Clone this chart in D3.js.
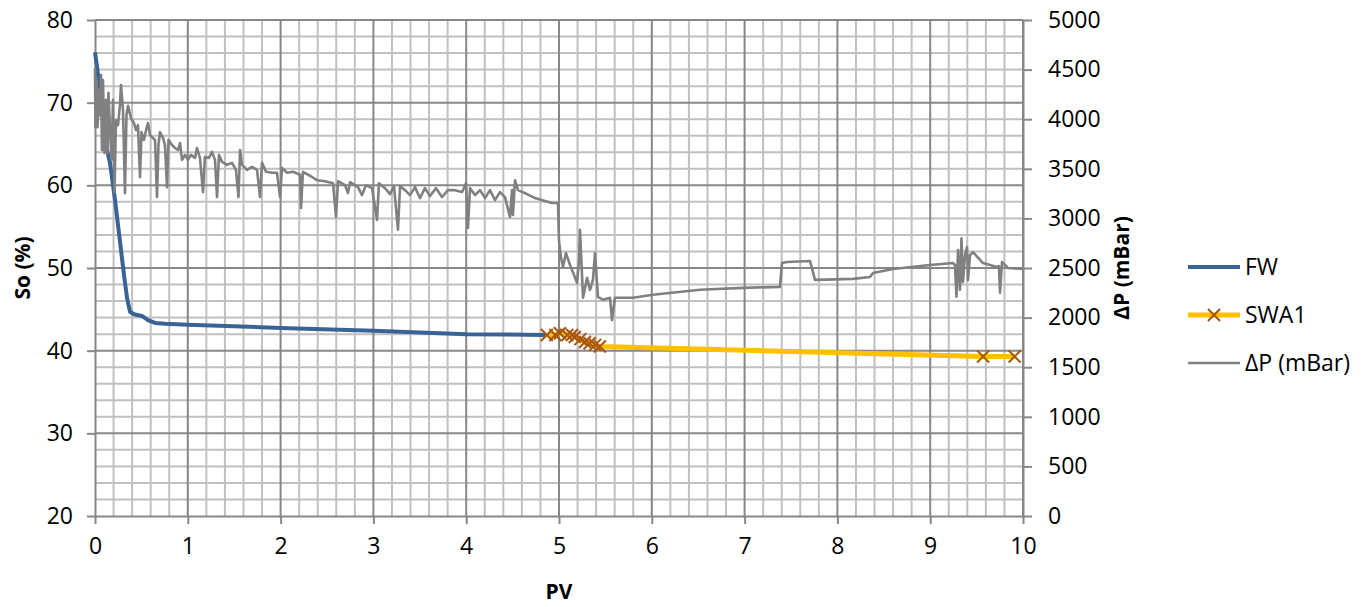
<!DOCTYPE html>
<head>
    <script src="https://d3js.org/d3.v7.min.js"></script>
    <style>
      body { margin: 0; background: #fff; }
      text { font-family: "Open Sans", "Liberation Sans", sans-serif; fill: #000; }
    </style>
</head>

<body>
    <div id="chart"></div>
</body>

<script>

  // FW series (left axis, So %)
  const fwPV = [0, 0.022, 0.054, 0.129, 0.162, 0.216, 0.280, 0.312, 0.345, 0.377, 0.420, 0.506, 0.571, 0.647, 0.754, 1.0, 2.0, 3.0, 4.0, 4.85];
  const fwSo = [76.1, 74.3, 71.5, 64.3, 62.7, 58.2, 52.2, 49.2, 46.4, 44.7, 44.4, 44.2, 43.7, 43.35, 43.25, 43.15, 42.75, 42.4, 42.0, 41.9];

  // SWA1 series (left axis, So %)
  const swaPV = [4.87, 4.96, 5.01, 5.09, 5.14, 5.17, 5.23, 5.28, 5.33, 5.39, 5.44, 9.57, 9.91];
  const swaSo = [41.9, 41.9, 42.1, 41.9, 41.9, 41.65, 41.4, 41.05, 40.9, 40.7, 40.5, 39.3, 39.3];

  // ΔP series (right axis, mBar)
  const dpPV = [0.000, 0.005, 0.016, 0.027, 0.043, 0.054, 0.065, 0.075, 0.086, 0.102, 0.119, 0.135, 0.145, 0.162, 0.178, 0.194, 0.210, 0.226, 0.248, 0.269,
    0.280, 0.302, 0.323, 0.339, 0.356, 0.388, 0.420, 0.442, 0.463, 0.485, 0.501, 0.528, 0.555, 0.571, 0.593, 0.625, 0.647, 0.668, 0.684, 0.700,
    0.733, 0.754, 0.776, 0.792, 0.830, 0.862, 0.894, 0.916, 0.938, 0.970, 1.002, 1.034, 1.078, 1.099, 1.131, 1.164, 1.185, 1.228, 1.261, 1.293,
    1.315, 1.336, 1.369, 1.422, 1.476, 1.519, 1.546, 1.563, 1.584, 1.638, 1.692, 1.746, 1.778, 1.800, 1.843, 1.907, 1.961, 1.994, 2.015, 2.069,
    2.134, 2.209, 2.220, 2.241, 2.317, 2.392, 2.478, 2.565, 2.597, 2.619, 2.694, 2.726, 2.748, 2.834, 2.877, 2.920, 2.985, 3.039, 3.060, 3.125,
    3.179, 3.222, 3.265, 3.287, 3.341, 3.394, 3.448, 3.502, 3.556, 3.610, 3.675, 3.739, 3.804, 3.879, 3.955, 3.998, 4.019, 4.041, 4.095, 4.149,
    4.203, 4.256, 4.310, 4.364, 4.418, 4.472, 4.494, 4.504, 4.526, 4.558, 4.634, 4.741, 4.849, 4.925, 4.989, 5.000, 5.022, 5.043, 5.075, 5.119,
    5.162, 5.194, 5.216, 5.226, 5.259, 5.302, 5.334, 5.366, 5.388, 5.420, 5.474, 5.550, 5.571, 5.603, 5.797, 6.013, 6.519, 6.983, 7.381, 7.403,
    7.457, 7.705, 7.759, 8.168, 8.351, 8.384, 8.599, 8.998, 9.246, 9.267, 9.283, 9.300, 9.321, 9.337, 9.353, 9.375, 9.397, 9.407, 9.429, 9.461,
    9.569, 9.720, 9.741, 9.752, 9.774, 9.838, 10.0];
  const dpMBar = [4515, 3920, 4395, 3920, 4295, 4040, 4445, 3690, 4395, 3660, 4195, 3660, 4265, 3890, 3590, 4195, 3265, 3990, 3940, 4145,
    4345, 4090, 3255, 4040, 4135, 4010, 3960, 3890, 3940, 3415, 3870, 3790, 3910, 3960, 3840, 3810, 3790, 3215, 3740, 3870,
    3810, 3740, 3315, 3790, 3740, 3710, 3690, 3760, 3590, 3640, 3590, 3640, 3610, 3710, 3610, 3265, 3620, 3610, 3670, 3590,
    3215, 3640, 3570, 3540, 3560, 3490, 3215, 3690, 3540, 3490, 3520, 3490, 3215, 3560, 3470, 3460, 3460, 3215, 3510, 3460,
    3470, 3440, 3105, 3470, 3430, 3385, 3375, 3355, 3015, 3375, 3335, 3255, 3365, 3315, 3235, 3335, 3305, 2985, 3355, 3305,
    3245, 3325, 2885, 3325, 3285, 3235, 3315, 3205, 3305, 3225, 3305, 3215, 3285, 3285, 3265, 3355, 2905, 3305, 3235, 3285,
    3205, 3285, 3185, 3265, 3215, 3015, 3285, 3035, 3385, 3285, 3255, 3205, 3175, 3155, 3155, 2770, 2600, 2510, 2650, 2530,
    2430, 2350, 2580, 2885, 2200, 2400, 2280, 2380, 2650, 2210, 2180, 2200, 1975, 2200, 2200, 2230, 2280, 2300, 2310, 2550,
    2560, 2570, 2380, 2390, 2410, 2450, 2490, 2530, 2550, 2530, 2210, 2680, 2280, 2800, 2360, 2630, 2710, 2380, 2630, 2660,
    2550, 2510, 2520, 2250, 2560, 2500, 2490];

  // tick labels
  const pvTicks = [0, 1, 2, 3, 4, 5, 6, 7, 8, 9, 10];
  const soTicks = [20, 30, 40, 50, 60, 70, 80];
  const dpTicks = [0, 500, 1000, 1500, 2000, 2500, 3000, 3500, 4000, 4500, 5000];

  const legendNames = ["FW", "SWA1", "ΔP (mBar)"];

  const margin = {top: 20, right: 348, bottom: 91, left: 95},
    W = 1371, H = 607,
    width = W - margin.left - margin.right,
    height = H - margin.top - margin.bottom;

  const fwColor = "#3A6395", swaColor = "#FFC000", markColor = "#A8560D", dpColor = "#808080";
  const majorGrid = "#878787", minorGrid = "#C0C0C0";

  const svg = d3.select("#chart")
    .append("svg")
    .attr("width", W)
    .attr("height", H)
    .append("g")
    .attr("transform", `translate(${margin.left}, ${margin.top})`);

  const x = d3.scaleLinear().domain([0, 10]).range([0, width]);
  const yL = d3.scaleLinear().domain([20, 80]).range([height, 0]);
  const yR = d3.scaleLinear().domain([0, 5000]).range([height, 0]);

  // minor grid
  const minorX = d3.range(0, 50).map(i => i * 0.2).filter(v => Math.abs(v - Math.round(v)) > 1e-6);
  const minorY = d3.range(20, 80, 2).filter(v => v % 10 !== 0);

  svg.append("g").selectAll("line")
    .data(minorX).join("line")
    .attr("x1", d => x(d)).attr("x2", d => x(d))
    .attr("y1", 0).attr("y2", height)
    .attr("stroke", minorGrid).attr("stroke-width", 2);
  svg.append("g").selectAll("line")
    .data(minorY).join("line")
    .attr("x1", 0).attr("x2", width)
    .attr("y1", d => yL(d)).attr("y2", d => yL(d))
    .attr("stroke", minorGrid).attr("stroke-width", 2);

  // major grid
  svg.append("g").selectAll("line")
    .data(pvTicks.slice(1)).join("line")
    .attr("x1", d => x(d)).attr("x2", d => x(d))
    .attr("y1", 0).attr("y2", height)
    .attr("stroke", majorGrid).attr("stroke-width", 2);
  svg.append("g").selectAll("line")
    .data(soTicks.slice(1)).join("line")
    .attr("x1", 0).attr("x2", width)
    .attr("y1", d => yL(d)).attr("y2", d => yL(d))
    .attr("stroke", majorGrid).attr("stroke-width", 2);

  // axes
  function styleAxis(g) {
    g.selectAll(".domain").attr("stroke", majorGrid).attr("stroke-width", 2);
    g.selectAll(".tick line").attr("stroke", majorGrid).attr("stroke-width", 2);
    g.selectAll(".tick text").style("font-size", "23px").attr("fill", "#000");
  }

  svg.append("g")
    .attr("transform", `translate(0, ${height})`)
    .call(d3.axisBottom(x).tickValues(pvTicks).tickSize(8).tickSizeOuter(0).tickPadding(14))
    .call(styleAxis);

  svg.append("g")
    .call(d3.axisLeft(yL).tickValues(soTicks).tickSize(8).tickSizeOuter(0).tickPadding(14))
    .call(styleAxis);

  svg.append("g")
    .attr("transform", `translate(${width}, 0)`)
    .call(d3.axisRight(yR).tickValues(dpTicks).tickFormat(d3.format("d")).tickSize(9).tickSizeOuter(0).tickPadding(16))
    .call(styleAxis);

  // lines
  const lineL = d3.line().x(d => x(d[0])).y(d => yL(d[1]));
  const lineR = d3.line().x(d => x(d[0])).y(d => yR(d[1]));

  svg.append("path")
    .datum(d3.zip(fwPV, fwSo))
    .attr("d", lineL)
    .attr("fill", "none")
    .attr("stroke", fwColor)
    .attr("stroke-width", 4)
    .attr("stroke-linejoin", "round");

  const swaData = d3.zip(swaPV, swaSo);
  svg.append("path")
    .datum(swaData)
    .attr("d", lineL)
    .attr("fill", "none")
    .attr("stroke", swaColor)
    .attr("stroke-width", 5)
    .attr("stroke-linejoin", "round");

  const mk = 6;
  svg.append("g").selectAll("path")
    .data(swaData).join("path")
    .attr("d", d => {
      const cx = x(d[0]), cy = yL(d[1]);
      return `M${cx - mk},${cy - mk}L${cx + mk},${cy + mk}M${cx - mk},${cy + mk}L${cx + mk},${cy - mk}`;
    })
    .attr("stroke", markColor)
    .attr("stroke-width", 2);

  svg.append("path")
    .datum(d3.zip(dpPV, dpMBar))
    .attr("d", lineR)
    .attr("fill", "none")
    .attr("stroke", dpColor)
    .attr("stroke-width", 2.6)
    .attr("stroke-linejoin", "round");

  // axis titles
  svg.append("text")
    .attr("x", x(5)).attr("y", height + 83)
    .attr("text-anchor", "middle")
    .style("font-size", "21px").style("font-weight", "bold")
    .text("PV");

  svg.append("text")
    .attr("transform", `translate(${-65}, ${height / 2}) rotate(-90)`)
    .attr("text-anchor", "middle")
    .style("font-size", "21px").style("font-weight", "bold")
    .text("So (%)");

  svg.append("text")
    .attr("transform", `translate(${width + 106}, ${height / 2}) rotate(-90)`)
    .attr("text-anchor", "middle")
    .style("font-size", "21px").style("font-weight", "bold")
    .text("ΔP (mBar)");

  // legend
  const legend = svg.append("g").attr("transform", `translate(${width + 165}, 0)`);
  const legY = [247, 295, 343];
  const legColors = [fwColor, swaColor, dpColor];
  const legWidths = [4, 5, 2.6];
  legendNames.forEach((name, i) => {
    legend.append("line")
      .attr("x1", 0).attr("x2", 52)
      .attr("y1", legY[i]).attr("y2", legY[i])
      .attr("stroke", legColors[i]).attr("stroke-width", legWidths[i]);
    if (i === 1) {
      legend.append("path")
        .attr("d", `M${26 - mk},${legY[i] - mk}L${26 + mk},${legY[i] + mk}M${26 - mk},${legY[i] + mk}L${26 + mk},${legY[i] - mk}`)
        .attr("stroke", markColor).attr("stroke-width", 2);
    }
    legend.append("text")
      .attr("x", 57).attr("y", legY[i])
      .attr("dy", "0.35em")
      .style("font-size", "23px")
      .text(name);
  });

</script>
